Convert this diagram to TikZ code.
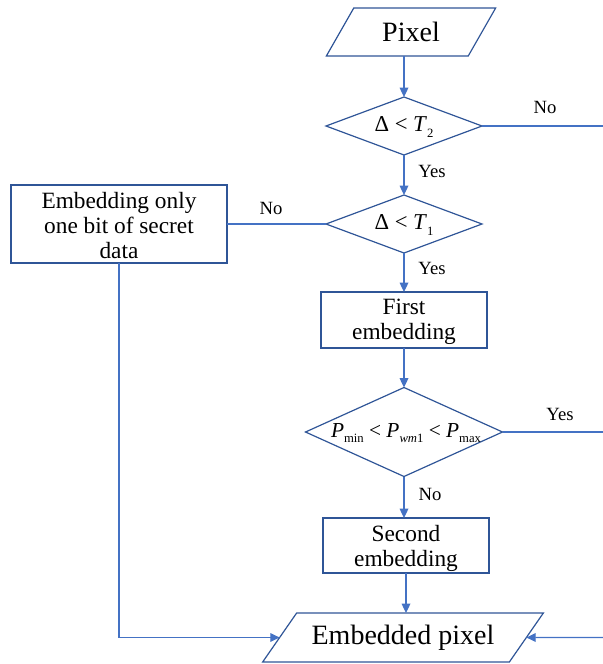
\documentclass[tikz,border=0pt]{standalone}
\usepackage{fontspec}
\setmainfont{Liberation Serif}
\usetikzlibrary{shapes.geometric,arrows.meta}
\definecolor{lineblue}{HTML}{4472C4}
\definecolor{edgeblue}{HTML}{2F5597}
\newcommand{\lowsub}[1]{\raisebox{-0.55ex}{\fontsize{9.5}{9.5}\selectfont #1}}
\begin{document}
\begin{tikzpicture}[x=0.75pt,y=-0.75pt,
  procbox/.style={draw=edgeblue, line width=0.9pt, rectangle, inner sep=0pt, outer sep=0pt},
  boxtxt/.style={inner sep=0pt, align=center, font=\fontsize{17.5}{18.75}\selectfont},
  decision/.style={draw=edgeblue, line width=0.9pt, diamond, inner sep=0pt, outer sep=0pt},
  io/.style={draw=edgeblue, line width=0.9pt, trapezium, trapezium stretches=true, inner sep=0pt, outer sep=0pt, font=\fontsize{21}{24}\selectfont},
  flow/.style={draw=lineblue, line width=0.9pt, -{Triangle[length=7pt,width=6.5pt]}},
  link/.style={draw=lineblue, line width=0.9pt},
  lab/.style={font=\fontsize{14}{16}\selectfont, inner sep=0pt},
  mathtxt/.style={inner sep=0pt, font=\fontsize{17}{19}\selectfont}]
\useasboundingbox (0,0) rectangle (603,664);
% shapes
\node[io, trapezium left angle=55, trapezium right angle=125, minimum width=127.5pt, minimum height=36pt] (pixel) at (411,32) {Pixel};
\node[decision, minimum width=117pt, minimum height=43.5pt] (d1) at (404,126) {};
\node[mathtxt] (d1t) at (404,127) {Δ < \textit{T}\lowsub{2}};
\node[decision, minimum width=117pt, minimum height=43.5pt] (d2) at (404,224) {};
\node[mathtxt] (d2t) at (404,225) {Δ < \textit{T}\lowsub{1}};
\node[procbox, minimum width=162pt, minimum height=58.5pt] (left) at (119,224) {};
\node[boxtxt] (leftt) at (119,226) {Embedding only\\one bit of secret\\data};
\node[procbox, minimum width=124.5pt, minimum height=42pt] (first) at (404,320) {};
\node[boxtxt] (firstt) at (404,322) {First\\embedding};
\node[decision, minimum width=147.75pt, minimum height=66.75pt] (d3) at (404,432) {};
\node[mathtxt, font=\fontsize{16}{18}\selectfont] (d3t) at (406,433) {\textit{P}\lowsub{min} < \textit{P}\lowsub{\textit{wm}1} < \textit{P}\lowsub{max}};
\node[procbox, minimum width=124.5pt, minimum height=41.25pt] (second) at (406,545.5) {};
\node[boxtxt] (secondt) at (406,548) {Second\\embedding};
\node[io, trapezium left angle=41, trapezium right angle=139, minimum width=210.75pt, minimum height=36.75pt] (ep) at (403,637.5) {Embedded pixel};
% free ends
\coordinate (r1) at (603,126);
\coordinate (r3) at (603,432);
\coordinate (r4) at (603,637.5);
% connectors
\draw[flow] (pixel.south -| d1.north) -- (d1.north);
\draw[link] (d1.east) -- (r1);
\draw[flow] (d1.south) -- (d2.north);
\draw[link] (d2.west) -- (left.east);
\draw[flow] (d2.south) -- (first.north);
\draw[flow] (first.south) -- (d3.north);
\draw[link] (d3.east) -- (r3);
\draw[flow] (d3.south) -- (d3.south |- second.north);
\draw[flow] (second.south) -- (second.south |- ep.north);
\draw[flow] (left.south) |- (ep.west);
\draw[flow] (r4) -- (ep.east);
% labels
\node[lab] (l1) at (545,107) {No};
\node[lab] (l2) at (432,171) {Yes};
\node[lab] (l3) at (271,208) {No};
\node[lab] (l4) at (432,268) {Yes};
\node[lab] (l5) at (560,414) {Yes};
\node[lab] (l6) at (430,494) {No};
\end{tikzpicture}
\end{document}
